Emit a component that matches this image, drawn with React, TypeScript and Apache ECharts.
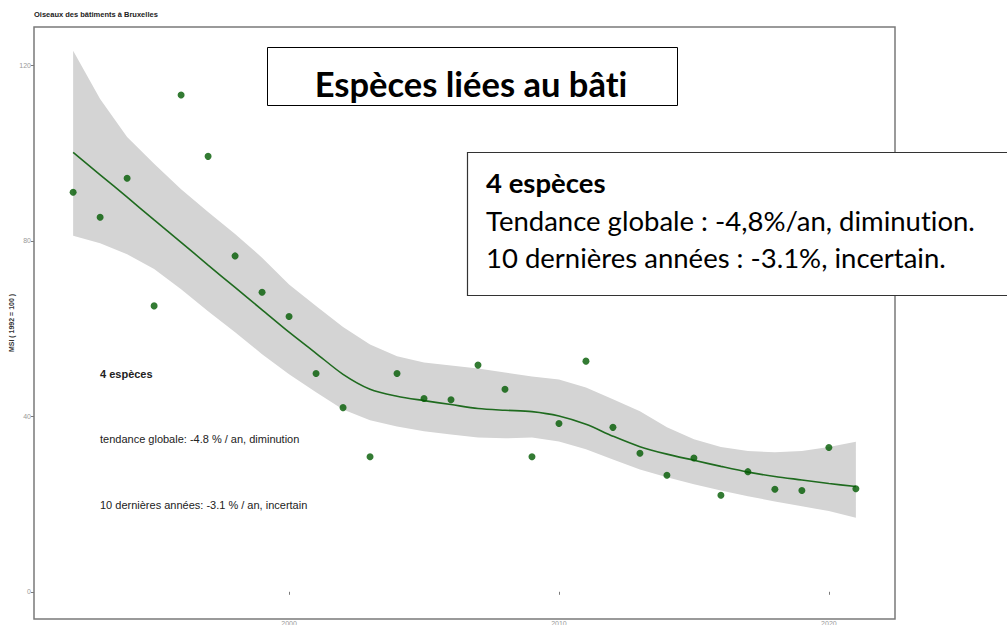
import React, { useEffect, useRef } from "react";
import * as echarts from "echarts";

const years = [1992, 1993, 1994, 1995, 1996, 1997, 1998, 1999, 2000, 2001, 2002, 2003, 2004, 2005, 2006, 2007, 2008, 2009, 2010, 2011, 2012, 2013, 2014, 2015, 2016, 2017, 2018, 2019, 2020, 2021];
const msi = [91.1, 85.4, 94.3, 65.2, 113.3, 99.3, 76.6, 68.3, 62.8, 49.8, 42.0, 30.8, 49.8, 44.1, 43.8, 51.7, 46.2, 30.8, 38.4, 52.6, 37.5, 31.6, 26.6, 30.5, 22.0, 27.4, 23.4, 23.1, 32.9, 23.5];
const trend = [100.2, 95.1, 90.0, 84.8, 79.7, 74.5, 69.4, 64.3, 59.2, 54.4, 49.6, 46.2, 44.6, 43.6, 42.7, 41.8, 41.4, 41.1, 40.1, 38.2, 35.5, 33.1, 31.4, 30.0, 28.6, 27.3, 26.3, 25.5, 24.7, 24.0];
const upper = [123.4, 112.4, 103.7, 97.6, 91.8, 86.6, 81.6, 76.2, 70.1, 65.2, 60.4, 56.4, 53.7, 52.3, 51.6, 50.9, 50.0, 49.1, 48.4, 46.6, 43.9, 41.2, 37.5, 34.8, 33.0, 32.1, 31.8, 32.1, 33.0, 34.2];
const lower = [81.2, 79.5, 77.0, 73.6, 69.0, 64.0, 59.2, 54.2, 49.6, 45.5, 41.6, 39.1, 37.7, 36.6, 35.9, 35.2, 35.0, 35.2, 34.3, 32.5, 30.2, 27.9, 26.1, 24.5, 23.1, 21.8, 20.6, 19.5, 18.4, 16.9];
const xTicks = [2000, 2010, 2020];
const yTicks = [0, 40, 80, 120];

const chartTitle = "Oiseaux des bâtiments à Bruxelles";
const yAxisName = "MSI ( 1992 = 100 )";
const innerLines = ["4 espèces", "tendance globale: -4.8 % / an, diminution", "10 dernières années: -3.1 % / an, incertain"];
const boxTitle = "Espèces liées au bâti";
const boxLines = ["4 espèces", "Tendance globale : -4,8%/an, diminution.", "10 dernières années : -3.1%, incertain."];

export default function App() {
  const ref = useRef<HTMLDivElement>(null);
  useEffect(() => {
    if (!ref.current) return;
    const chart = echarts.init(ref.current, null, { renderer: "svg" });
    const green = "#005a00";
    chart.setOption({
      animation: false,
      backgroundColor: "#ffffff",
      grid: {
        left: 34, right: 112, top: 27, bottom: 6,
        outerBoundsMode: "none", containLabel: false,
        show: true, borderColor: "#7a7a7a", borderWidth: 1.5, backgroundColor: "transparent",
      },
      xAxis: {
        type: "value",
        min: 1990.55,
        max: 2022.45,
        splitLine: { show: false },
        axisLine: { show: false },
        axisTick: { show: true, inside: false, length: 3, lineStyle: { color: "#7a7a7a" }, customValues: xTicks },
        axisLabel: { show: true, fontSize: 7, color: "#999", margin: 1, fontFamily: "Liberation Sans", formatter: (v: number) => String(v), customValues: xTicks },
      },
      yAxis: {
        type: "value",
        min: -6.2,
        max: 128.8,
        name: yAxisName,
        nameLocation: "middle",
        nameGap: 19,
        nameRotate: 90,
        nameMoveOverlap: false,
        nameTextStyle: { fontSize: 7, fontWeight: "bold", color: "#333", fontFamily: "Liberation Sans" },
        splitLine: { show: false },
        axisLine: { show: false },
        axisTick: { show: true, inside: false, length: 3, lineStyle: { color: "#7a7a7a" }, customValues: yTicks },
        axisLabel: { show: true, fontSize: 7, color: "#999", margin: 3, fontFamily: "Liberation Sans", customValues: yTicks },
      },
      series: [
        {
          type: "custom",
          silent: true,
          z: 1,
          data: years.map((y, i) => [y, lower[i], upper[i]]),
          renderItem: (params: any, api: any) => {
            if (params.dataIndex !== 0) return null;
            const top = years.map((y, i) => api.coord([y, upper[i]]));
            const bottom = years.map((y, i) => api.coord([y, lower[i]])).reverse();
            return {
              type: "polygon",
              shape: { points: top.concat(bottom) },
              style: { fill: "#d4d4d4", stroke: "none" },
            };
          },
        },
        {
          type: "line",
          data: years.map((y, i) => [y, trend[i]]),
          symbol: "none",
          smooth: 0.3,
          lineStyle: { color: "#1f6b1f", width: 1.6 },
          z: 2,
        },
        {
          type: "scatter",
          data: years.map((y, i) => [y, msi[i]]),
          symbolSize: 7,
          itemStyle: { color: green },
          z: 3,
        },
      ],
      graphic: [
        { type: "text", left: 34, top: 10, style: { text: chartTitle, font: "bold 7.5px 'Liberation Sans'", fill: "#222" } },
        { type: "text", x: 100, y: 374, style: { text: innerLines[0], font: "bold 11px 'Liberation Sans'", fill: "#222", verticalAlign: "middle" } },
        { type: "text", x: 100, y: 439, style: { text: innerLines[1], font: "11px 'Liberation Sans'", fill: "#222", verticalAlign: "middle" } },
        { type: "text", x: 100, y: 505, style: { text: innerLines[2], font: "11px 'Liberation Sans'", fill: "#222", verticalAlign: "middle" } },
        { type: "rect", z: 100, shape: { x: 267.5, y: 47.5, width: 410, height: 58 }, style: { fill: "#fff", stroke: "#000", lineWidth: 1 } },
        { type: "text", z: 101, x: 471, y: 83, style: { text: boxTitle, font: "bold 34.5px Lato", fill: "#000", align: "center", verticalAlign: "middle" } },
        { type: "rect", z: 100, shape: { x: 467.5, y: 152.5, width: 560, height: 143 }, style: { fill: "#fff", stroke: "#333", lineWidth: 1.2 } },
        { type: "text", z: 101, x: 486, y: 182, style: { text: boxLines[0], font: "bold 27.5px Lato", fill: "#000", verticalAlign: "middle" } },
        { type: "text", z: 101, x: 486, y: 220, style: { text: boxLines[1], font: "27.5px Lato", fill: "#000", verticalAlign: "middle" } },
        { type: "text", z: 101, x: 486, y: 257, style: { text: boxLines[2], font: "27.5px Lato", fill: "#000", verticalAlign: "middle" } },
      ],
    });
    return () => chart.dispose();
  }, []);
  return (
    <>
      <style>{"svg text { font-variant-ligatures: none !important; font-feature-settings: 'liga' 0, 'clig' 0 !important; }"}</style>
      <div ref={ref} style={{ position: "fixed", left: 0, top: 0, width: 1007, height: 625 }} />
    </>
  );
}
